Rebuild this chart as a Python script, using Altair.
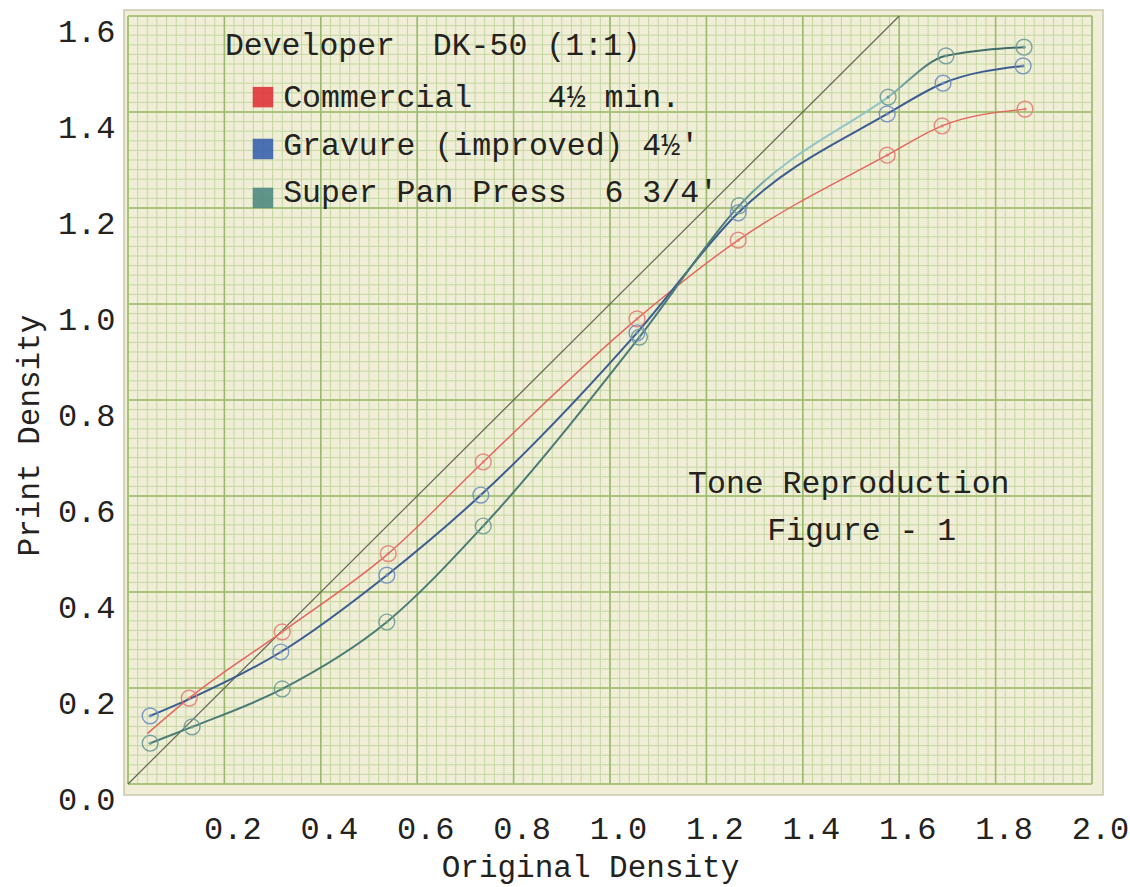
import numpy as np
import pandas as pd
import altair as alt

# Tone reproduction curves: print density vs. original density, developer DK-50 (1:1)
commercial_x = [0.04, 0.127, 0.32, 0.54, 0.737, 1.056, 1.266, 1.575, 1.689, 1.861]
commercial_y = [0.105, 0.179, 0.317, 0.48, 0.671, 0.969, 1.133, 1.31, 1.371, 1.406]
commercial_marked = [False, True, True, True, True, True, True, True, True, True]

gravure_x = [0.046, 0.127, 0.317, 0.537, 0.732, 1.056, 1.266, 1.575, 1.691, 1.857]
gravure_y = [0.142, 0.177, 0.275, 0.435, 0.602, 0.94, 1.19, 1.396, 1.46, 1.496]
gravure_marked = [True, False, True, True, True, True, True, True, True, True]

superpan_x = [0.046, 0.133, 0.32, 0.537, 0.737, 1.061, 1.268, 1.577, 1.697, 1.859]
superpan_y = [0.085, 0.119, 0.198, 0.3375, 0.5375, 0.931, 1.205, 1.431, 1.517, 1.535]
superpan_marked = [True] * 10

# Equal-density reference line
identity_x = [0.0, 1.6]

x_ticks = [0.2, 0.4, 0.6, 0.8, 1.0, 1.2, 1.4, 1.6, 1.8, 2.0]
y_ticks = [0.0, 0.2, 0.4, 0.6, 0.8, 1.0, 1.2, 1.4, 1.6]

NB = "\u00a0"  # keeps typed runs of spaces from collapsing
legend_labels = [
    "Commercial" + NB * 4 + "4½ min.",
    "Gravure (improved) 4½'",
    "Super Pan Press" + NB * 2 + "6 3/4'",
]
note_labels = ["Developer" + NB * 2 + "DK-50 (1:1)", "Tone Reproduction", "Figure - 1"]

FONT = "Liberation Mono"
INK = "#23221e"
PAPER = "#f0eed6"
MINOR = "#c4d7a2"
MAJOR = "#9bbb6c"

RED_LINE, RED_RING, RED_SWATCH = "#e4625c", "#e77d78", "#e0343a"
BLUE_LINE, BLUE_RING, BLUE_SWATCH = "#3b5c92", "#6d8fc2", "#3a62ae"
TEAL_LINE, TEAL_RING, TEAL_SWATCH = "#4b7b75", "#6e9c98", "#4f8a82"
TEAL_PALE = "#93c4c6"

# Plot frame: graph paper spans 0..2.0 by 0..1.6 with a thin margin round it
X_DOMAIN = [-0.0083, 2.0228]
Y_DOMAIN = [-0.0229, 1.6125]

xscale = alt.Scale(domain=X_DOMAIN, nice=False, zero=False)
yscale = alt.Scale(domain=Y_DOMAIN, nice=False, zero=False)

xaxis = alt.Axis(
    values=x_ticks, format=".1f", grid=False, domain=False, ticks=False,
    labelFont=FONT, labelFontSize=32, labelColor=INK, labelPadding=18,
    labelOffset=8, labelBaseline="top", labelFlush=False, labelOverlap=False,
    title="Original Density", titleFont=FONT, titleFontSize=31,
    titleFontWeight="normal", titleColor=INK, titleX=466, titleY=72,
    titleBaseline="middle", titleAlign="center",
)
yaxis = alt.Axis(
    values=y_ticks, format=".1f", grid=False, domain=False, ticks=False,
    labelFont=FONT, labelFontSize=32, labelColor=INK, labelPadding=9,
    labelBaseline="top", labelFlush=False, labelOverlap=False,
    title="Print Density", titleFont=FONT, titleFontSize=31,
    titleFontWeight="normal", titleColor=INK, titleX=-95, titleY=425,
    titleAngle=-90, titleBaseline="middle", titleAlign="center",
)


def X(field):
    return alt.X(field, type="quantitative", scale=xscale, axis=xaxis)


def Y(field):
    return alt.Y(field, type="quantitative", scale=yscale, axis=yaxis)


# Graph-paper rulings
minor_x = np.round(np.arange(0, 2.0001, 0.02), 3)
minor_y = np.round(np.arange(0, 1.6001, 0.02), 3)
major_x = np.round(np.arange(0, 2.0001, 0.2), 3)
major_y = np.round(np.arange(0, 1.6001, 0.2), 3)

vert = lambda vals: pd.DataFrame({"v": vals, "lo": 0.0, "hi": 1.6})
horz = lambda vals: pd.DataFrame({"v": vals, "lo": 0.0, "hi": 2.0})

minor_v = alt.Chart(vert(minor_x)).mark_rule(color=MINOR, strokeWidth=1).encode(
    x=X("v"), y=Y("lo"), y2="hi")
minor_h = alt.Chart(horz(minor_y)).mark_rule(color=MINOR, strokeWidth=1).encode(
    y=Y("v"), x=X("lo"), x2="hi")
major_v = alt.Chart(vert(major_x)).mark_rule(color=MAJOR, strokeWidth=1.6).encode(
    x=X("v"), y=Y("lo"), y2="hi")
major_h = alt.Chart(horz(major_y)).mark_rule(color=MAJOR, strokeWidth=1.6).encode(
    y=Y("v"), x=X("lo"), x2="hi")

identity = alt.Chart(pd.DataFrame({"x": identity_x, "y": identity_x})).mark_line(
    color="#666656", strokeWidth=1.2).encode(x=X("x"), y=Y("y"))


def series(xs, ys, marked):
    return pd.DataFrame({"x": xs, "y": ys, "marked": marked})


comm = series(commercial_x, commercial_y, commercial_marked)
grav = series(gravure_x, gravure_y, gravure_marked)
span = series(superpan_x, superpan_y, superpan_marked)

# Super Pan curve is drawn paler over its upper shoulder
teal_stroke = alt.LinearGradient(
    gradient="linear", x1=0, x2=1, y1=0, y2=0,
    stops=[
        alt.GradientStop(color=TEAL_LINE, offset=0),
        alt.GradientStop(color=TEAL_LINE, offset=0.66),
        alt.GradientStop(color=TEAL_PALE, offset=0.72),
        alt.GradientStop(color=TEAL_PALE, offset=0.84),
        alt.GradientStop(color="#3f6c67", offset=0.9),
        alt.GradientStop(color="#3f6c67", offset=1),
    ],
)


def curve(df, color, width):
    return alt.Chart(df).mark_line(
        interpolate="monotone", color=color, strokeWidth=width
    ).encode(x=X("x"), y=Y("y"))


def rings(df, color):
    base = alt.Chart(df).transform_filter("datum.marked")
    ring = base.mark_point(shape="circle", filled=False, size=250,
                           color=color, strokeWidth=1.4, opacity=0.9).encode(
        x=X("x"), y=Y("y"))
    dot = base.mark_point(shape="circle", filled=True, size=10,
                          color=color, opacity=1).encode(x=X("x"), y=Y("y"))
    return ring + dot


# Typed legend with crayon swatches
legend_rows = pd.DataFrame({
    "x": [0.280, 0.280, 0.280],
    "y": [1.431, 1.323, 1.221],
    "tx": [0.322, 0.322, 0.322],
    "ty": [1.410, 1.310, 1.2125],
    "label": legend_labels,
    "swatch": [RED_SWATCH, BLUE_SWATCH, TEAL_SWATCH],
})
swatches = alt.Chart(legend_rows).mark_square(size=420, opacity=0.9).encode(
    x=X("x"), y=Y("y"), color=alt.Color("swatch:N", scale=None))
legend_text = alt.Chart(legend_rows).mark_text(
    align="left", baseline="alphabetic", font=FONT, fontSize=31.5, color=INK
).encode(x=X("tx"), y=Y("ty"), text="label:N")

notes = pd.DataFrame({
    "x": [0.201, 1.162, 1.326],
    "y": [1.519, 0.606, 0.508],
    "text": note_labels,
})
note_text = alt.Chart(notes).mark_text(
    align="left", baseline="alphabetic", font=FONT, fontSize=31.5, color=INK
).encode(x=X("x"), y=Y("y"), text="text:N")

chart = alt.layer(
    minor_v, minor_h, major_v, major_h, identity,
    curve(comm, RED_LINE, 1.4),
    curve(grav, BLUE_LINE, 2.0),
    curve(span, teal_stroke, 2.0),
    rings(comm, RED_RING), rings(grav, BLUE_RING), rings(span, TEAL_RING),
    swatches, legend_text, note_text,
).properties(
    width=979, height=785,
    autosize=alt.AutoSizeParams(type="none"),
    padding={"left": 124, "top": 10, "right": 27, "bottom": 92},
    background="white",
).configure_view(
    fill=PAPER, stroke="#c9c7ad", strokeWidth=1.5,
)

chart.save("out.html", embed_options={"renderer": "svg", "actions": False})
